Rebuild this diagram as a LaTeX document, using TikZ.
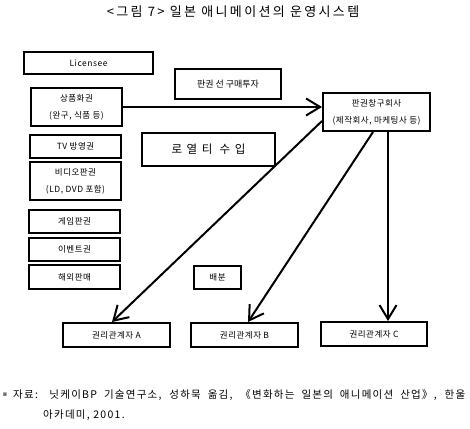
\documentclass[tikz,border=0pt]{standalone}
\usepackage{fontspec}
\setmainfont{Noto Sans CJK KR}
\newfontfamily\symfont{DejaVu Sans}
\usetikzlibrary{arrows.meta}
\newcommand\bxf{\fontsize{8.5}{17}\selectfont\addfontfeatures{LetterSpace=6}}
\begin{document}
\begin{tikzpicture}[x=1pt,y=-1pt,
  box/.style={draw,line width=2pt,inner sep=0pt,font=\bxf,align=center},
  arr/.style={line width=2pt,-{Straight Barb[length=14pt,width=17pt]}}]
\useasboundingbox (0,0) rectangle (470,428);
% title
\node (title) at (233,12) {\fontsize{13}{15}\selectfont\addfontfeatures{LetterSpace=18}<그림 7> 일본 애니메이션의 운영시스템};
% boxes
\node[box,minimum width=129pt,minimum height=22pt] (lic) at (88.5,63) {Licensee};
\node[box,minimum width=106pt,minimum height=30pt,font=\fontsize{9}{12}\selectfont] (invest) at (228,84) {판권 선 구매투자};
\node[box,minimum width=91pt,minimum height=38pt] (goods) at (76.5,107) {상품화권\\(완구, 식품 등)};
\node[box,minimum width=107pt,minimum height=38pt] (agency) at (376.5,112) {판권창구회사\\(제작회사, 마케팅사 등)};
\node[box,minimum width=91pt,minimum height=23pt] (tv) at (75.5,146.5) {TV 방영권};
\node[box,minimum width=133pt,minimum height=33pt,font=\fontsize{11.5}{14}\selectfont\addfontfeatures{LetterSpace=40}] (royalty) at (208.5,149.5) {로열티 수입};
\node[box,minimum width=91pt,minimum height=38pt] (video) at (75.5,181) {비디오판권\\(LD, DVD 포함)};
\node[box,minimum width=91pt,minimum height=23pt] (game) at (74.5,221.5) {게임판권};
\node[box,minimum width=91pt,minimum height=23pt] (event) at (74.5,249.5) {이벤트권};
\node[box,minimum width=91pt,minimum height=24pt] (overseas) at (74.5,277) {해외판매};
\node[box,minimum width=47pt,minimum height=23pt] (dist) at (217.5,277.5) {배분};
\node[box,minimum width=107pt,minimum height=24pt] (ra) at (116.5,335) {권리관계자 A};
\node[box,minimum width=107pt,minimum height=24pt] (rb) at (244.5,335) {권리관계자 B};
\node[box,minimum width=106pt,minimum height=24pt] (rc) at (374,334) {권리관계자 C};
% connectors
\draw[arr] (goods.east) -- (goods.east -| agency.west);
\draw[arr] ([yshift=-9pt]agency.west) -- ([xshift=-4.5pt]ra.north);
\draw[arr] ([xshift=-3.5pt]agency.south) -- ([xshift=3.5pt]rb.north);
\draw[arr] ([xshift=11.5pt]agency.south) -- ([xshift=11.5pt]agency.south |- rc.north);
% footer
\node[anchor=center,inner sep=0pt,text=black!55] (bullet) at (5,395) {\symfont\fontsize{7}{8}\selectfont ▪};
\node[anchor=west,inner sep=0pt] (foot1) at (13,395) {\fontsize{10.5}{14}\selectfont\addfontfeatures{LetterSpace=12}\makebox[452pt][s]{자료: 닛케이BP 기술연구소, 성하묵 옮김, 《변화하는 일본의 애니메이션 산업》, 한울}};
\node[anchor=west,inner sep=0pt] (foot2) at (43,415) {\fontsize{10.5}{14}\selectfont\addfontfeatures{LetterSpace=12}아카데미, 2001.};
\end{tikzpicture}
\end{document}
